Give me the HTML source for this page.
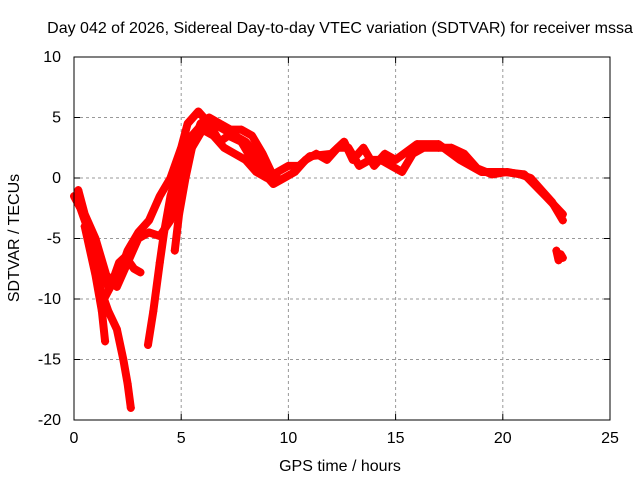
<!DOCTYPE html>
<html><head><meta charset="utf-8"><style>
body{margin:0;background:#fff}
svg text{font-family:"Liberation Sans",sans-serif;font-size:16px;fill:#000}
</style></head><body>
<svg id="chart" width="640" height="480" xmlns="http://www.w3.org/2000/svg">
<text x="340" y="33" text-anchor="middle">Day 042 of 2026, Sidereal Day-to-day VTEC variation (SDTVAR) for receiver mssa</text>
<text x="340" y="471" text-anchor="middle">GPS time / hours</text>
<text transform="translate(19,238) rotate(-90)" text-anchor="middle">SDTVAR / TECUs</text>
<g id="grid"></g><g id="ticks"></g><g id="marks"></g>
<rect x="74" y="57" width="536" height="363" fill="none" stroke="#000" stroke-width="1"/>
</svg>
<script>
const xTicks=[0,5,10,15,20,25];
const yTicks=[10,5,0,-5,-10,-15,-20];
const trace1=[[0,-1.5],[0.3,-2.5],[0.6,-4],[1,-6],[1.3,-8],[1.6,-9],[2,-8.5],[2.5,-6],[3,-4.5],[3.5,-3.5],[4,-1.5],[4.5,0],[5,2.5],[5.3,4.5],[5.8,5.5],[6.3,4.5],[6.8,3],[7.2,3.5],[7.8,3],[8.3,1.5],[8.8,0.5],[9.3,-0.5],[9.8,0],[10.3,0.5],[10.8,1.5],[11.3,2],[11.8,1.5],[12.3,2.5],[12.8,2.5],[13.3,1],[13.8,1.5],[14.3,1.5],[14.8,1],[15.3,0.5],[15.8,2],[16.3,2.5],[17,2.5],[17.6,2.5],[18.2,2],[18.8,0.8],[19.5,0.3],[20.2,0.5],[20.8,0.3],[21.3,0],[21.8,-1],[22.3,-2],[22.8,-3.5]];
const trace2=[[0.2,-1],[0.5,-3],[1,-5],[1.5,-8],[2,-9],[2.5,-7],[3,-5],[3.5,-4.5],[4,-4.8],[4.5,-3.5],[5,-0.5],[5.5,2.5],[6,4],[6.5,3.5],[7,2.5],[7.5,2],[8,1.5],[8.5,0.5],[9,0],[9.5,0.5],[10,1],[10.5,1],[11,1.8],[12,2],[12.6,3],[13,1.5],[13.5,2.5],[14,1],[14.5,2],[15,1.5],[16,2.8],[17,2.8],[18,1.5],[19,0.5],[20,0.5],[21,0.3],[22,-1.5],[22.8,-3]];
const trace3=[[0.5,-4],[1,-8],[1.3,-11],[1.45,-13.5]];
const trace4=[[0.8,-6],[1.2,-9],[1.6,-11],[2,-12.5],[2.3,-15],[2.5,-17],[2.65,-19]];
const trace5=[[3.45,-13.8],[3.7,-11],[4,-7],[4.2,-4.5],[4.5,-1.5],[5,1.5],[5.5,3.5],[6,4.5],[6.5,4.5],[7,4],[7.5,3.5],[8,3],[8.5,2],[9,0.8]];
const trace6=[[1.4,-10],[1.7,-9],[2.1,-7],[2.4,-6.5],[2.8,-7.5],[3.1,-7.8]];
const trace7=[[4.7,-6],[4.9,-3],[5.2,0],[5.5,2.5],[5.9,4.5],[6.3,5],[6.8,4.5],[7.3,4],[7.8,4],[8.3,3.5],[8.8,2],[9.2,0.5],[9.5,0]];
const trace8=[[22.5,-6],[22.6,-6.8],[22.7,-6.3],[22.8,-6.6]];
const series=[trace1,trace2,trace3,trace4,trace5,trace6,trace7,trace8];
const X0=74,X1=610,Y0=57,Y1=420;
const sx=v=>X0+(v-0)/(25-0)*(X1-X0);
const sy=v=>Y1-(v+20)/(30)*(Y1-Y0);
const NS="http://www.w3.org/2000/svg";
const grid=document.getElementById('grid'),ticks=document.getElementById('ticks'),marks=document.getElementById('marks');
function mk(t,a,p){const e=document.createElementNS(NS,t);for(const k in a)e.setAttribute(k,a[k]);p.appendChild(e);return e;}
xTicks.forEach(t=>{const x=sx(t);
 if(t>0&&t<25){const g=mk('line',{x1:x,y1:Y0,x2:x,y2:Y1,stroke:'#999','stroke-dasharray':'3,3'},grid);
 
 }
 const l=mk('text',{x:x,y:443,'text-anchor':'middle'},ticks);l.textContent=t;
 
 
 mk('line',{x1:x,y1:Y1,x2:x,y2:Y1-6,stroke:'#000'},ticks);mk('line',{x1:x,y1:Y0,x2:x,y2:Y0+6,stroke:'#000'},ticks);});
yTicks.forEach(t=>{const y=sy(t);
 if(t>-20&&t<10){const g=mk('line',{x1:X0,y1:y,x2:X1,y2:y,stroke:'#999','stroke-dasharray':'3,3'},grid);
 
 }
 const l=mk('text',{x:61,y:y+5,'text-anchor':'end'},ticks);l.textContent=t;
 
 
 mk('line',{x1:X0,y1:y,x2:X0+6,y2:y,stroke:'#000'},ticks);mk('line',{x1:X1,y1:y,x2:X1-6,y2:y,stroke:'#000'},ticks);});
series.forEach((s,i)=>{
 const pl=mk('polyline',{points:s.map(p=>sx(p[0])+','+sy(p[1])).join(' '),fill:'none',stroke:'#f00','stroke-width':8,'stroke-linejoin':'round','stroke-linecap':'round'},marks);
 
 
 s.forEach(p=>{const x=sx(p[0]),y=sy(p[1]);
  const m=mk('path',{d:`M${x-4},${y}H${x+4}M${x},${y-4}V${y+4}`,stroke:'#f00','stroke-width':1.2},marks);
  
  });
});
</script>
</body></html>
